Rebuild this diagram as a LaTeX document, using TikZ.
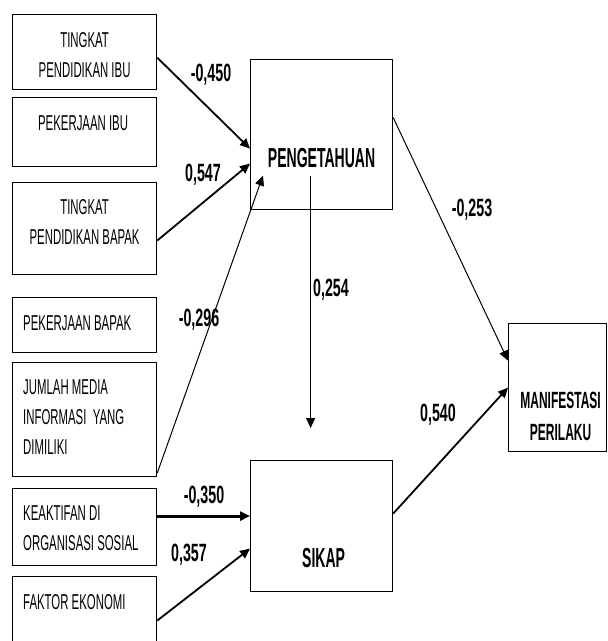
\documentclass[tikz,border=0pt]{standalone}
\usepackage{fontspec}
\setmainfont{Liberation Sans}
\newfontfamily\boxfont{Liberation Sans}[FakeStretch=0.53]
\newfontfamily\headfont{Liberation Sans Bold}[FakeStretch=0.51]
\newfontfamily\valfont{Liberation Sans Bold}[FakeStretch=0.57]
\usetikzlibrary{positioning, arrows.meta}

\begin{document}
\begin{tikzpicture}[x = 1pt, y = -1pt,
    box/.style = { draw, line width = 1.2pt, shape = rectangle, anchor = north west, inner sep = 0pt },
    boxtext/.style = { font = \boxfont\fontsize{21.5}{30}\selectfont, inner sep = 0pt },
    bigtext/.style = { font = \headfont\fontsize{27.5}{32}\selectfont, inner sep = 0pt },
    value/.style = { font = \valfont\fontsize{25}{30}\selectfont, inner sep = 0pt },
    arr/.style = { -{Triangle[length = 10pt, width = 9pt]}, line width = 1.8pt }]
      \useasboundingbox (0,0) rectangle (608,641);

      % left column
      \node [box, minimum width = 144, minimum height = 75] (ibuedu) at (12,14) {};
      \node [box, minimum width = 144, minimum height = 69] (ibujob) at (12,97) {};
      \node [box, minimum width = 144, minimum height = 92] (bapakedu) at (12,182) {};
      \node [box, minimum width = 144, minimum height = 55] (bapakjob) at (12,297) {};
      \node [box, minimum width = 144, minimum height = 114] (media) at (12,362) {};
      \node [box, minimum width = 144, minimum height = 77] (sosial) at (12,488) {};
      \node [box, minimum width = 144, minimum height = 70] (ekonomi) at (12,576) {};

      \node [boxtext, align = center, anchor = north] (ibuedu-t) at ([yshift = -18pt]ibuedu.north) { TINGKAT \\ PENDIDIKAN IBU };
      \node [boxtext, anchor = north] (ibujob-t) at ([xshift = -1.5pt, yshift = -19pt]ibujob.north) { PEKERJAAN IBU };
      \node [boxtext, align = center, anchor = north] (bapakedu-t) at ([yshift = -17pt]bapakedu.north) { TINGKAT \\ PENDIDIKAN BAPAK };
      \node [boxtext, anchor = north west] (bapakjob-t) at ([xshift = 11pt, yshift = -19pt]bapakjob.north west) { PEKERJAAN BAPAK };
      \node [boxtext, align = left, anchor = north west] (media-t) at ([xshift = 11pt, yshift = -18pt]media.north west) { JUMLAH MEDIA \\ INFORMASI~~YANG \\ DIMILIKI };
      \node [boxtext, align = left, anchor = north west] (sosial-t) at ([xshift = 11pt, yshift = -18pt]sosial.north west) { KEAKTIFAN DI \\ ORGANISASI SOSIAL };
      \node [boxtext, anchor = north west] (ekonomi-t) at ([xshift = 11pt, yshift = -18pt]ekonomi.north west) { FAKTOR EKONOMI };

      % middle and right
      \node [box, minimum width = 142, minimum height = 150] (peng) at (250,59) {};
      \node [box, minimum width = 142, minimum height = 131] (sikap) at (250,460) {};
      \node [box, minimum width = 98, minimum height = 128] (manif) at (508,323) {};

      \node [bigtext, anchor = base] (peng-t) at ([yshift = -33pt]peng.center) { PENGETAHUAN };
      \node [bigtext, anchor = base] (sikap-t) at ([xshift = 2pt, yshift = -41.5pt]sikap.center) { SIKAP };
      \node [bigtext, align = center, anchor = north, font = \headfont\fontsize{23.5}{32}\selectfont] (manif-t) at ([xshift = 3pt, yshift = -69pt]manif.north) { MANIFESTASI \\ PERILAKU };

      \coordinate (ptr) at ([xshift = -11pt, yshift = 32pt]sikap.north);

      % paths
      \draw [arr] ([yshift = -5.5pt]ibuedu.east) -- ([yshift = -14pt]peng.west);
      \draw [arr] ([yshift = -12pt]bapakedu.east) -- ([yshift = -29pt]peng.west);
      \draw [arr, line width = 1pt] ([yshift = 4pt]media.south east) -- ([xshift = 13pt, yshift = -41pt]peng.west);
      \draw [arr, line width = 3pt] ([yshift = 11pt]sosial.east) -- ([yshift = 11pt]sosial.east -| sikap.west);
      \draw [arr] ([yshift = -9pt]ekonomi.east) -- ([yshift = -22.5pt]sikap.west);
      \draw [arr, line width = 1pt] ([xshift = -11pt, yshift = -8pt]peng-t.base) -- (ptr);
      \draw [arr, line width = 1pt] ([yshift = 17pt]peng.east) -- ([yshift = 27pt]manif.west);
      \draw [arr] ([yshift = 12.5pt]sikap.east) -- (manif.west);

      \node [value] (v450) at (211,75) { -0,450 };
      \node [value] (v547) at (203,175) { 0,547 };
      \node [value] (v296) at (199,320) { -0,296 };
      \node [value] (v350) at (204,497) { -0,350 };
      \node [value] (v357) at (189,555) { 0,357 };
      \node [value] (v254) at (331,290) { 0,254 };
      \node [value] (v253) at (472,210) { -0,253 };
      \node [value] (v540) at (438,415) { 0,540 };

\end{tikzpicture}
\end{document}
